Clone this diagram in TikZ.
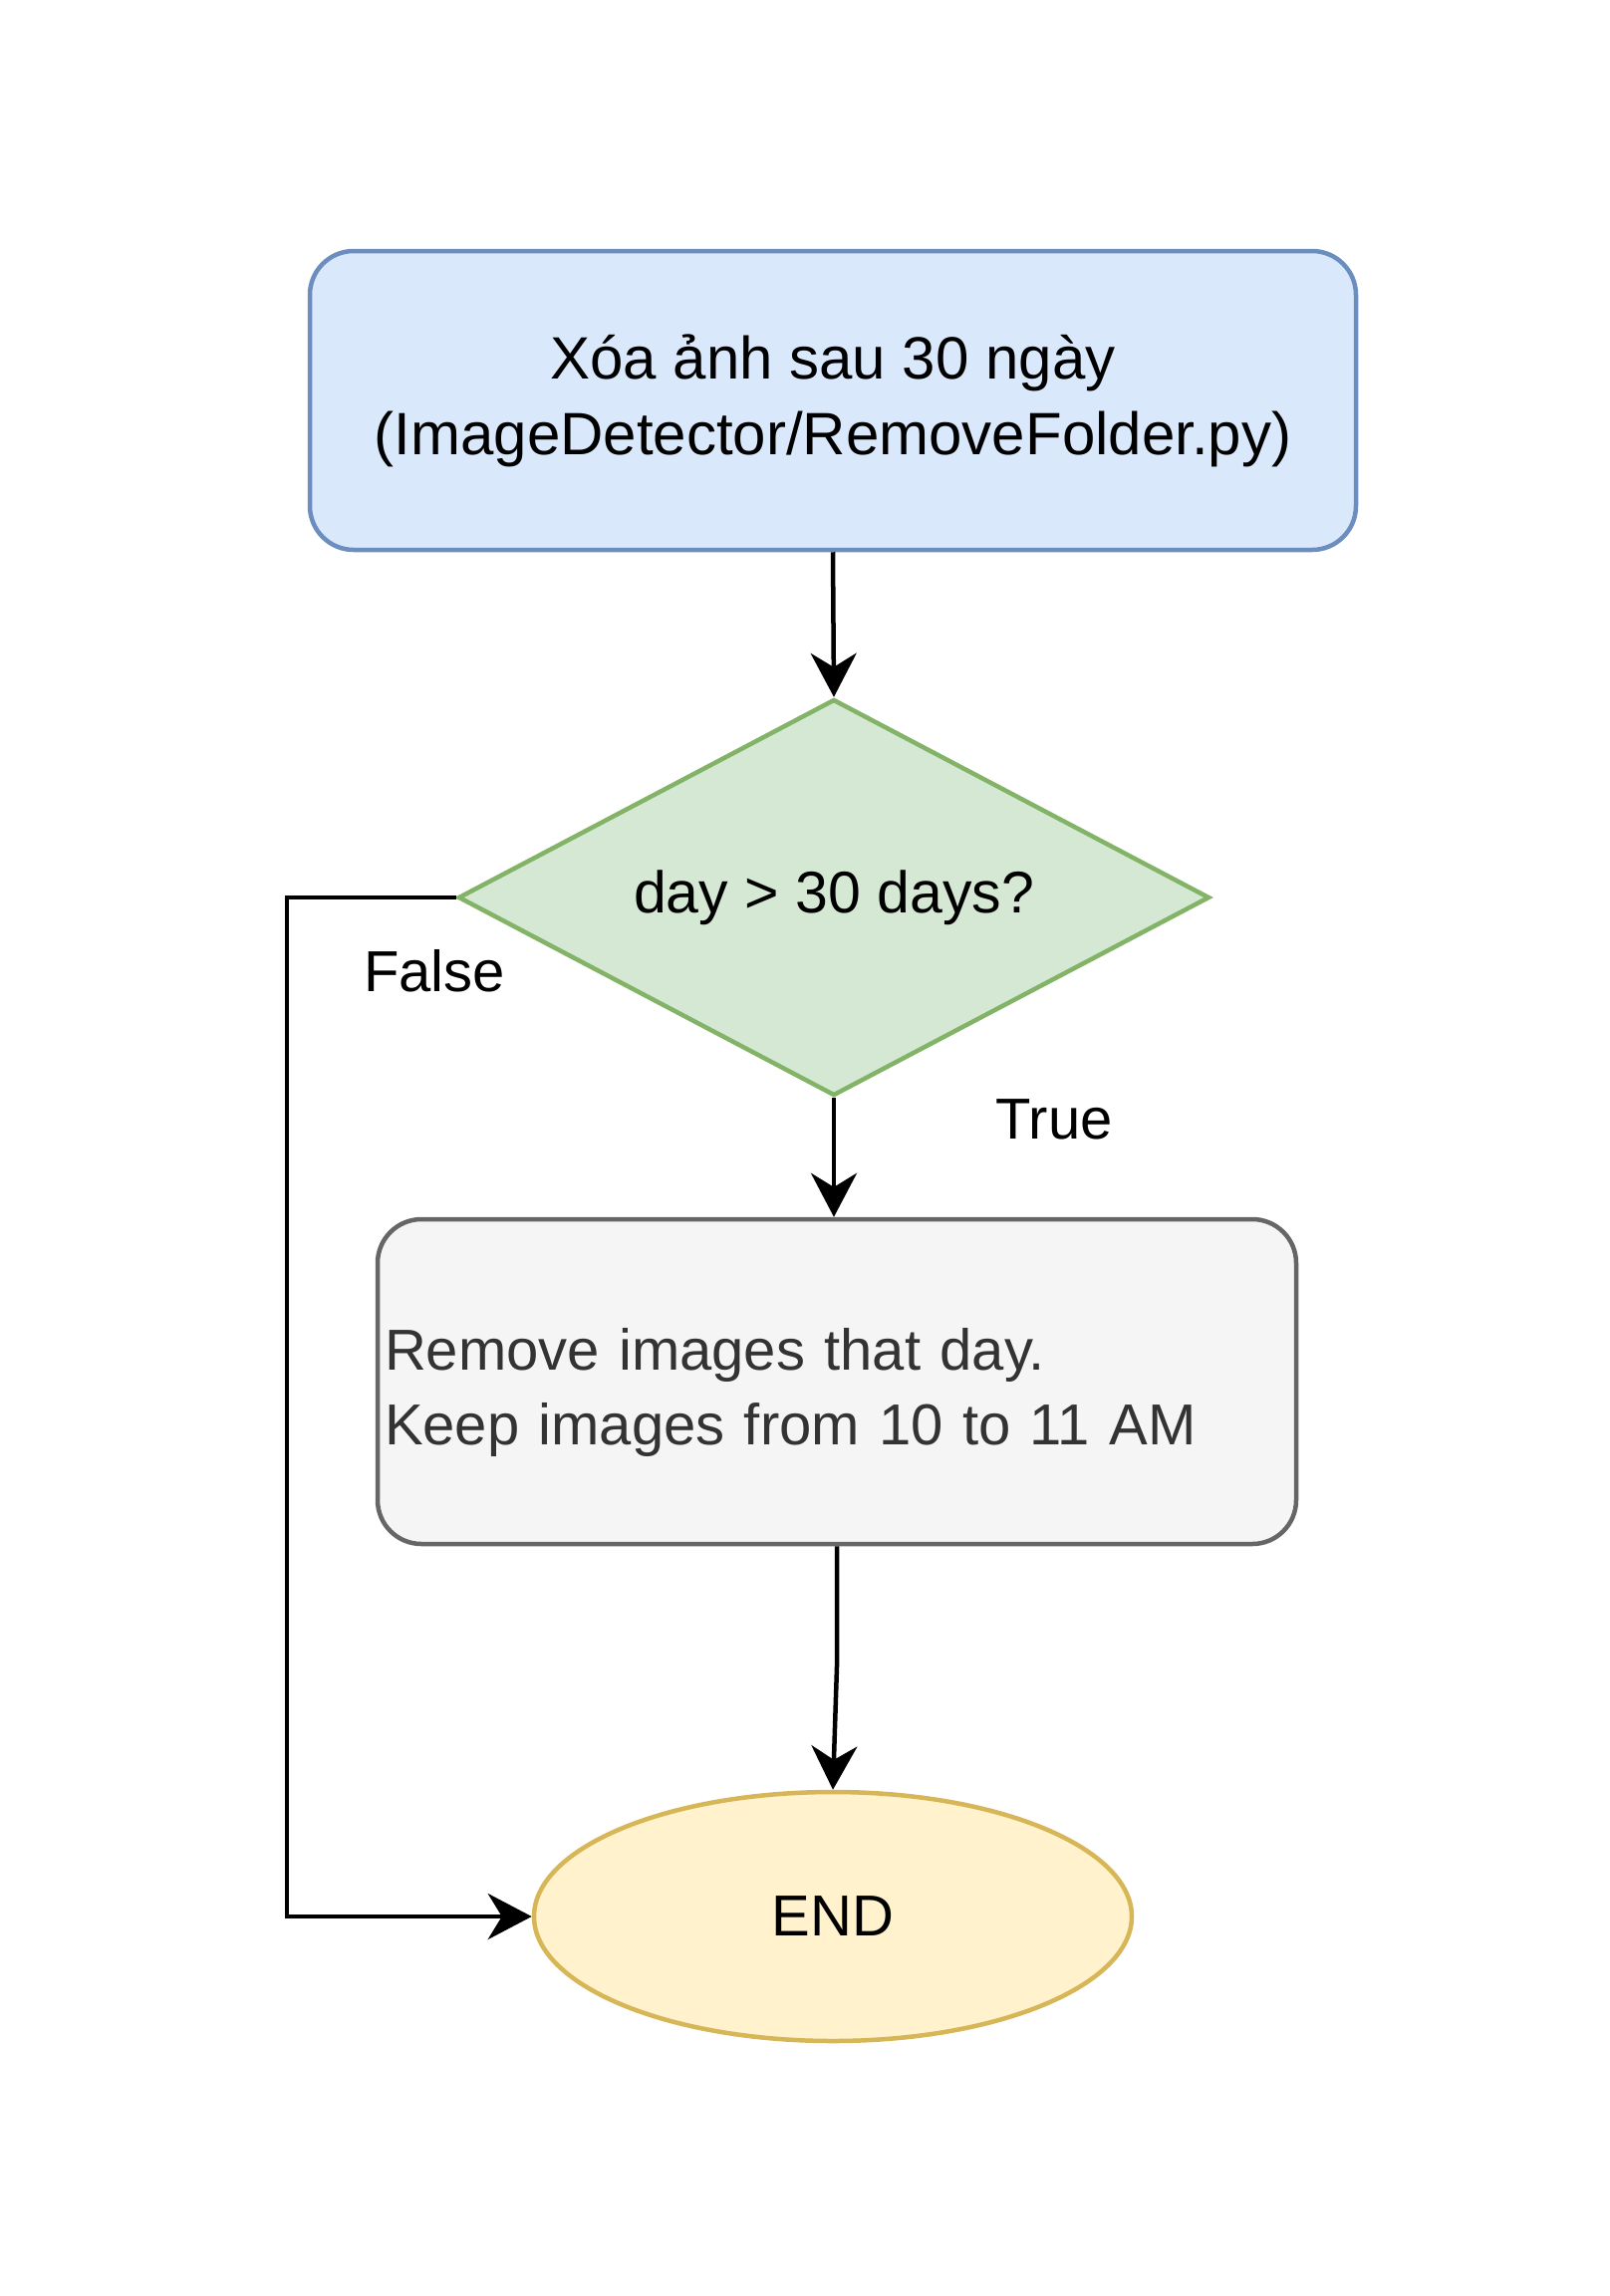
\documentclass[tikz,border=0pt]{standalone}
\usepackage{fontspec}
\setmainfont{Liberation Sans}
\usetikzlibrary{shapes.geometric,arrows.meta}
\definecolor{bluefill}{HTML}{DAE8FC}
\definecolor{bluedraw}{HTML}{6C8EBF}
\definecolor{greenfill}{HTML}{D5E8D4}
\definecolor{greendraw}{HTML}{82B366}
\definecolor{grayfill}{HTML}{F5F5F5}
\definecolor{graydraw}{HTML}{666666}
\definecolor{graytext}{HTML}{333333}
\definecolor{yellowfill}{HTML}{FFF2CC}
\definecolor{yellowdraw}{HTML}{D6B656}
\tikzset{
  txt/.style={font=\fontsize{58}{75}\selectfont},
  startbox/.style={font=\fontsize{60}{76}\selectfont, draw=bluedraw, fill=bluefill, line width=4.5pt, rounded corners=44pt,
    minimum width=1050pt, minimum height=300pt, inner sep=0pt, align=center},
  decbox/.style={font=\fontsize{59}{75}\selectfont, diamond, aspect=1.894, draw=greendraw, fill=greenfill, line width=4.5pt,
    minimum width=754pt, minimum height=398pt, inner sep=0pt},
  procbox/.style={txt, draw=graydraw, fill=grayfill, text=graytext, line width=4.5pt, rounded corners=44pt,
    text width=908pt, inner xsep=7pt, minimum height=326pt, align=left},
  endbox/.style={txt, ellipse, draw=yellowdraw, fill=yellowfill, line width=4.5pt,
    minimum width=600pt, minimum height=250pt, inner sep=0pt},
  conn/.style={line width=4.5pt, -{Stealth[length=44pt, width=46pt, inset=14pt]}},
  lbl/.style={txt, anchor=base, inner sep=0pt}
}
\begin{document}
\begin{tikzpicture}[x=1pt, y=-1pt]
\useasboundingbox (0,0) rectangle (1615,2305);
\node[startbox] (start) at (836,402) {Xóa ảnh sau 30 ngày\\(ImageDetector/RemoveFolder.py)};
\node[decbox] (dec) at (837,901) {day > 30 days?};
\node[procbox] (proc) at (840,1387) {\rule{0pt}{64pt}Remove images that day.\\Keep images from 10 to 11 AM};
\node[endbox] (end) at (836,1924) {END};
\coordinate (fl) at (288,901);
\coordinate (bend) at (840,1673);
\draw[conn] (start.south) -- (dec.north);
\draw[conn] (dec.south) -- (proc.north -| dec.south);
\draw[conn] (proc.south) -- (bend) -- (end.north);
\draw[conn] (dec.west) -- (fl) |- (end.west);
\node[lbl] (lfalse) at (436,995) {False};
\node[lbl] (ltrue) at (1058,1143) {True};
\end{tikzpicture}
\end{document}
